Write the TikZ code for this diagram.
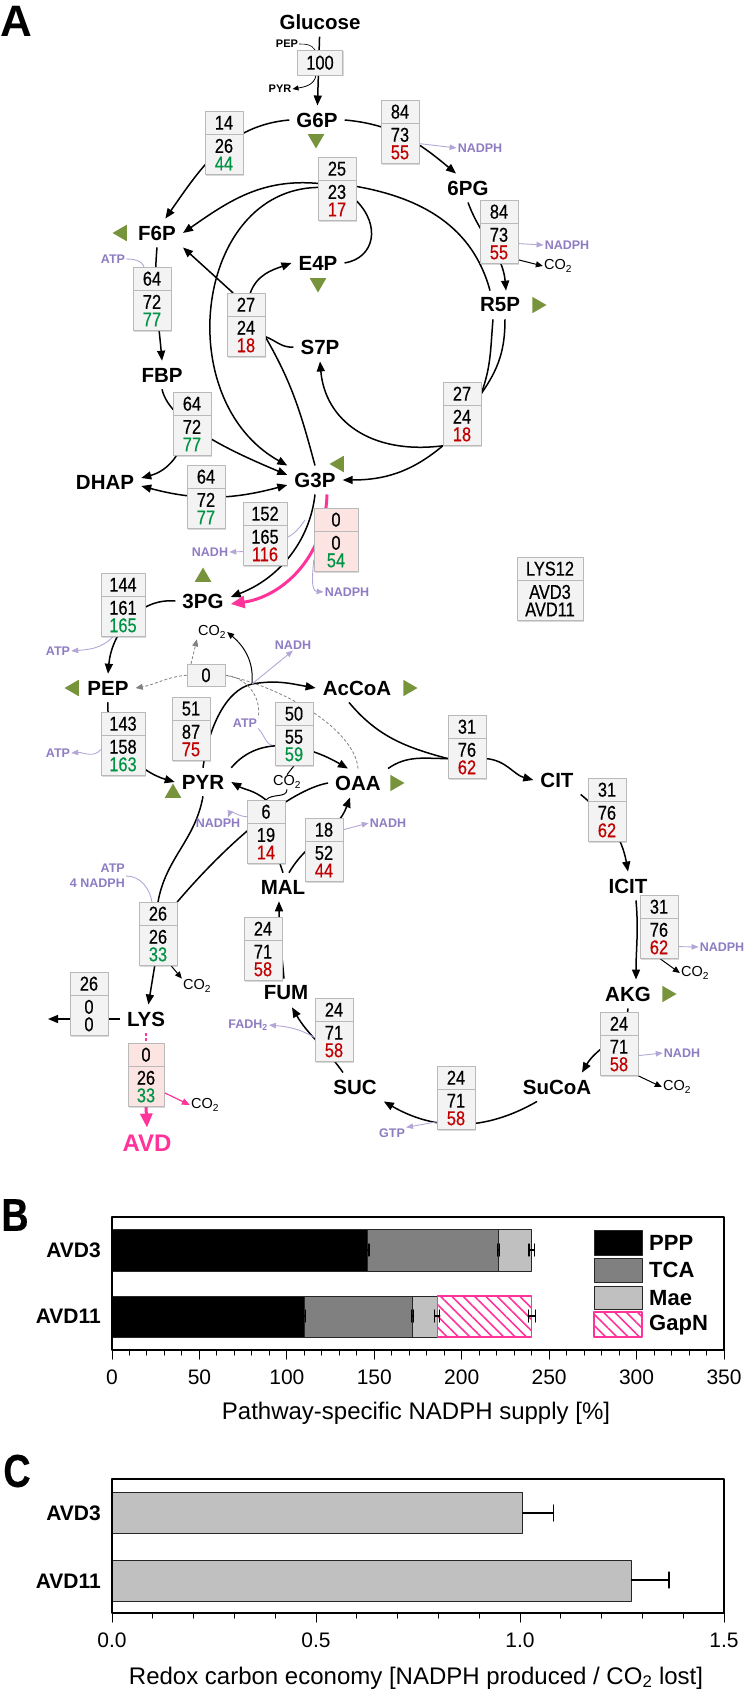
\documentclass[tikz,border=0pt]{standalone}
\usepackage{fontspec}
\setmainfont{Liberation Sans}
\newfontfamily\narrowfont[FakeStretch=0.82,FakeBold=0.4]{Liberation Sans}
\usepackage{tikz}
\usetikzlibrary{arrows.meta,positioning,shapes.geometric,backgrounds,patterns.meta,shadows}

\definecolor{fluxred}{RGB}{192,0,0}
\definecolor{fluxgreen}{RGB}{0,146,69}
\definecolor{cofpurple}{RGB}{142,124,195}
\definecolor{coflight}{RGB}{180,167,214}
\definecolor{gapnpink}{RGB}{255,51,153}
\definecolor{pinkfill}{RGB}{251,228,226}
\definecolor{boxfill}{RGB}{243,243,243}
\definecolor{boxedge}{RGB}{185,185,185}
\definecolor{sinkgreen}{RGB}{119,147,60}
\definecolor{tcagray}{RGB}{128,128,128}
\definecolor{maegray}{RGB}{192,192,192}

\begin{document}
\begin{tikzpicture}[
			x=1pt, y=1pt,
			line cap=round,
			line join=round,
			met/.style={font=\bfseries\fontsize{20.5}{23}\selectfont, inner xsep=7pt, inner ysep=7pt},
			tinylab/.style={font=\bfseries\fontsize{11}{13}\selectfont, inner sep=1pt},
			cof/.style={font=\bfseries\fontsize{12.5}{15}\selectfont, text=cofpurple, inner sep=1pt},
			cotwo/.style={font=\fontsize{14.5}{16}\selectfont, inner sep=1pt},
			cellt/.style={draw=boxedge, fill=boxfill, minimum width=38pt, minimum height=23pt,
				inner sep=0pt, anchor=north, font=\narrowfont\fontsize{20}{17.5}\selectfont,
				drop shadow={shadow xshift=1.2pt, shadow yshift=-1.2pt, opacity=0.3}},
			celll/.style={draw=boxedge, fill=boxfill, minimum width=38pt, minimum height=40pt,
				inner sep=0pt, align=center, font=\narrowfont\fontsize{20}{17.5}\selectfont,
				drop shadow={shadow xshift=1.2pt, shadow yshift=-1.2pt, opacity=0.3}},
			wide/.style={minimum width=44pt},
			sink/.style={regular polygon, regular polygon sides=3, fill=sinkgreen,
				minimum size=19pt, inner sep=0pt},
			link/.style={line width=1.5pt},
			flux/.style={line width=1.5pt, -{Triangle[length=10pt,width=8pt]}},
			fluxboth/.style={line width=1.5pt, {Triangle[length=10pt,width=8pt]}-{Triangle[length=10pt,width=8pt]}},
			thinln/.style={line width=0.6pt},
			thinarr/.style={line width=1pt, -{Triangle[length=7pt,width=6pt]}},
			cofln/.style={coflight, line width=0.9pt},
			cofarr/.style={coflight, line width=0.9pt, -{Triangle[length=7pt,width=5.5pt]}},
			gapn/.style={gapnpink, line width=3pt, -{Triangle[length=14pt,width=12pt]}},
			pinkarr/.style={gapnpink, line width=1.2pt, -{Triangle[length=8pt,width=6.5pt]}},
			pepck/.style={gray, line width=0.8pt, dash pattern=on 3pt off 2pt},
			panel/.style={font=\bfseries\fontsize{44}{48}\selectfont, inner sep=0pt},
			bar/.style={draw=black!85, line width=1pt},
			errbar/.style={line width=1.2pt},
			ticklab/.style={font=\fontsize{21}{24}\selectfont},
			rowlab/.style={font=\bfseries\fontsize{21}{24}\selectfont, anchor=east, inner sep=0pt},
			legtext/.style={font=\bfseries\fontsize{22}{24}\selectfont, anchor=west, inner sep=0pt},
			axtitle/.style={font=\fontsize{24}{28}\selectfont}
			]
			
			\useasboundingbox (0,0) rectangle (744,-1693);
			
			\newcommand{\FluxBox}[7][]{%
				\node[cellt,#1] (#2-t) at (#3) {#4};
				\node[celll,#1,below=0pt of #2-t] (#2) {#5\\\textcolor{#7}{#6}};
			}
			
			\node[panel] (labA) at (16,-21) {A};
			
			% metabolites
			\node[met] (glc) at (320,-22) {Glucose};
			\node[met] (g6p) at (317,-120) {G6P};
			\node[met] (sixpg) at (468,-188) {6PG};
			\node[met] (f6p) at (157,-233) {F6P};
			\node[met] (e4p) at (318,-263) {E4P};
			\node[met] (r5p) at (500,-305) {R5P};
			\node[met] (s7p) at (320,-347) {S7P};
			\node[met] (fbp) at (162,-375) {FBP};
			\node[met] (dhap) at (105,-482) {DHAP};
			\node[met] (g3p) at (315,-480) {G3P};
			\node[met] (threepg) at (203,-601) {3PG};
			\node[met] (pep) at (108,-688) {PEP};
			\node[met] (accoa) at (357,-688) {AcCoA};
			\node[met] (pyr) at (203,-782) {PYR};
			\node[met] (oaa) at (358,-783) {OAA};
			\node[met] (cit) at (557,-780) {CIT};
			\node[met] (icit) at (628,-886) {ICIT};
			\node[met] (akg) at (628,-994) {AKG};
			\node[met] (sucoa) at (557,-1087) {SuCoA};
			\node[met] (suc) at (355,-1087) {SUC};
			\node[met] (fum) at (286,-993) {FUM};
			\node[met] (mal) at (283,-887) {MAL};
			\node[met] (lys) at (146,-1019) {LYS};
			\node[met, text=gapnpink, font=\bfseries\fontsize{24}{26}\selectfont] (avd) at (147,-1143) {AVD};
			\coordinate (lysout) at (48,-1019);
			\coordinate (pdh) at (252,-684);
			\coordinate (nadhjoin) at (305,-520);
			
			% drain to biomass
			\node[sink, shape border rotate=180] (g6p-s) at (316,-139) {};
			\node[sink, shape border rotate=90] (f6p-s) at (122,-233) {};
			\node[sink, shape border rotate=180] (e4p-s) at (318,-283) {};
			\node[sink, shape border rotate=-90] (r5p-s) at (537,-305) {};
			\node[sink, shape border rotate=90] (g3p-s) at (339,-464) {};
			\node[sink] (threepg-s) at (203,-577) {};
			\node[sink, shape border rotate=90] (pep-s) at (74,-688) {};
			\node[sink, shape border rotate=-90] (accoa-s) at (408,-688) {};
			\node[sink] (pyr-s) at (173,-793) {};
			\node[sink, shape border rotate=-90] (oaa-s) at (395,-783) {};
			\node[sink, shape border rotate=-90] (akg-s) at (667,-994) {};
			
			% cofactors
			\node[tinylab] (peps) at (287,-44) {PEP};
			\node[tinylab] (pyrs) at (280,-89) {PYR};
			\node[cof] (nadpha) at (480,-148) {NADPH};
			\node[cof] (nadphb) at (567,-245) {NADPH};
			\node[cotwo] (co2a) at (558,-266) {CO\textsubscript{2}};
			\node[cof] (atpa) at (113,-259) {ATP};
			\node[cof] (nadha) at (210,-552) {NADH};
			\node[cof] (nadphc) at (347,-592) {NADPH};
			\node[cotwo] (co2b) at (212,-632) {CO\textsubscript{2}};
			\node[cof] (nadhb) at (293,-645) {NADH};
			\node[cof] (atpb) at (58,-651) {ATP};
			\node[cof] (atpc) at (58,-753) {ATP};
			\node[cof] (atpd) at (245,-723) {ATP};
			\node[cotwo] (co2c) at (287,-782) {CO\textsubscript{2}};
			\node[cof] (nadphd) at (218,-823) {NADPH};
			\node[cof] (nadhc) at (388,-823) {NADH};
			\node[cof, align=right, anchor=east] (atpe) at (126,-876) {ATP\\4 NADPH};
			\node[cotwo] (co2d) at (197,-986) {CO\textsubscript{2}};
			\node[cof] (fadh) at (248,-1025) {FADH\textsubscript{2}};
			\node[cof] (nadphe) at (722,-947) {NADPH};
			\node[cotwo] (co2e) at (695,-973) {CO\textsubscript{2}};
			\node[cof] (nadhd) at (682,-1053) {NADH};
			\node[cotwo] (co2f) at (677,-1087) {CO\textsubscript{2}};
			\node[cof] (gtp) at (392,-1133) {GTP};
			\node[cotwo] (co2g) at (205,-1105) {CO\textsubscript{2}};
			
			% flux boxes
			\node[cellt, minimum width=45pt, minimum height=25pt] (b100) at (320,-50) {100};
			\FluxBox{b1}{224,-111}{14}{26}{44}{fluxgreen}
			\FluxBox{b2}{400,-100}{84}{73}{55}{fluxred}
			\FluxBox{b3}{337,-157}{25}{23}{17}{fluxred}
			\FluxBox{b4}{499,-200}{84}{73}{55}{fluxred}
			\FluxBox{b5}{152,-267}{64}{72}{77}{fluxgreen}
			\FluxBox{b6}{246,-293}{27}{24}{18}{fluxred}
			\FluxBox{b7}{192,-392}{64}{72}{77}{fluxgreen}
			\FluxBox{b8}{462,-382}{27}{24}{18}{fluxred}
			\FluxBox{b9}{206,-465}{64}{72}{77}{fluxgreen}
			\FluxBox[wide]{b10}{265,-502}{152}{165}{116}{fluxred}
			\FluxBox[wide,fill=pinkfill]{b11}{336,-508}{0}{0}{54}{fluxgreen}
			\FluxBox[wide]{b12}{123,-573}{144}{161}{165}{fluxgreen}
			\node[cellt, minimum height=22pt] (b13) at (206,-664) {0};
			\FluxBox{b14}{191,-697}{51}{87}{75}{fluxred}
			\FluxBox[wide]{b15}{123,-712}{143}{158}{163}{fluxgreen}
			\FluxBox{b16}{294,-702}{50}{55}{59}{fluxgreen}
			\FluxBox{b17}{266,-800}{6}{19}{14}{fluxred}
			\FluxBox{b18}{324,-818}{18}{52}{44}{fluxred}
			\FluxBox{b19}{467,-715}{31}{76}{62}{fluxred}
			\FluxBox{b20}{607,-778}{31}{76}{62}{fluxred}
			\FluxBox{b21}{659,-895}{31}{76}{62}{fluxred}
			\FluxBox{b22}{619,-1012}{24}{71}{58}{fluxred}
			\FluxBox{b23}{456,-1066}{24}{71}{58}{fluxred}
			\FluxBox{b24}{334,-998}{24}{71}{58}{fluxred}
			\FluxBox{b25}{263,-917}{24}{71}{58}{fluxred}
			\FluxBox{b26}{158,-902}{26}{26}{33}{fluxgreen}
			\FluxBox{b27}{89,-972}{26}{0}{0}{black}
			\FluxBox[minimum width=36pt,fill=pinkfill]{b28}{146,-1043}{0}{26}{33}{fluxgreen}
			\FluxBox[minimum width=66pt]{leg}{550,-557}{LYS12}{AVD3}{AVD11}{black}
			
			\begin{scope}[on background layer]
				% glycolysis and PPP
				\draw[flux] (glc) -- (g6p);
				\draw[thinln] (peps.east) to[out=0,in=120] ([xshift=-5pt]b100.north);
				\draw[line width=0.8pt, -{Triangle[length=6pt,width=5pt]}] ([xshift=-4pt]b100.south) to[out=-100,in=10] (pyrs.east);
				\draw[flux] (g6p.west) to[out=185,in=55] (f6p.60);
				\draw[flux] (g6p.east) to[out=-5,in=140] ([xshift=-12pt]sixpg.north);
				\draw[flux] (sixpg.south) to[out=-70,in=95] ([xshift=6pt]r5p.north);
				\draw[cofarr] (b2.east) -- (nadpha.west);
				\draw[cofarr] (b4.east) -- (nadphb.west);
				\draw[thinarr] ([yshift=4pt]b4.south east) -- (co2a.west);
				
				\draw[link] ([xshift=-10pt]r5p.north) to[out=105,in=-10] ([yshift=-6pt]b3.north east);
				\draw[link] (e4p.east) .. controls +(30,5) and +(25,-25) .. (b3.east);
				\draw[flux] ([yshift=-3pt]b3.north west) to[out=175,in=35] (f6p.east);
				\draw[flux] ([yshift=-7pt]b3.north west) .. controls (195,-190) and (170,-400) .. (g3p.north west);
				
				\draw[flux] (b6-t) -- (f6p.south east);
				\draw[flux] (b6-t) to[out=70,in=200] (e4p.west);
				\draw[link] (s7p.west) to[out=185,in=-20] (b6.east);
				\draw[link] (g3p.north) to[out=105,in=-60] (b6.east);
				
				\draw[flux] (f6p.south) to[out=-95,in=95] (fbp.north);
				\draw[cofln] (atpa.east) to[out=0,in=110] ([xshift=-8pt]b5-t.north);
				\draw[flux] (fbp.south) .. controls (170,-425) and (240,-455) .. ([yshift=5pt]g3p.west);
				\draw[flux] ([xshift=-8pt]b7.center) to[out=-100,in=15] ([yshift=4pt]dhap.east);
				\draw[fluxboth] ([yshift=-4pt]dhap.east) to[out=-15,in=195] ([yshift=-5pt]g3p.west);
				
				\draw[link] ([xshift=-7pt]r5p.south) to[out=-95,in=70] (b8-t.east);
				\draw[link] ([xshift=5pt]r5p.south) to[out=-90,in=55] (b8-t.east);
				\draw[flux] (b8.south west) .. controls (370,-455) and (325,-420) .. (s7p.south);
				\draw[flux] (b8.south west) to[out=-140,in=0] (g3p.east);
				
				% lower glycolysis
				\draw[flux] (g3p.south) .. controls (310,-540) and (280,-578) .. ([yshift=4pt]threepg.east);
				\draw[cofarr] ([yshift=-6pt]b10.west) -- (nadha.east);
				\draw[cofln] ([yshift=8pt]b10.east) to[out=30,in=-125] (nadhjoin);
				\draw[gapn] ([xshift=12pt]g3p.south) .. controls (325,-560) and (280,-597) .. ([yshift=-3pt]threepg.east);
				\draw[cofarr] ([yshift=-8pt]b11.west) to[out=-95,in=175] (nadphc.west);
				\draw[flux] (threepg.west) to[out=175,in=85] (pep.north);
				\draw[cofarr] ([xshift=-10pt]b12.south) to[out=-135,in=5] (atpb.east);
				\draw[flux] (pep.south) .. controls (105,-740) and (140,-772) .. (pyr.west);
				\draw[cofarr] ([yshift=6pt]b15.west) to[out=-130,in=5] (atpc.east);
				
				% pyruvate node
				\draw[link] (pyr.north) .. controls (208,-730) and (225,-690) .. (pdh);
				\draw[flux] (pdh) to[out=10,in=170] (accoa.west);
				\draw[thinarr] (pdh) to[out=85,in=-40] (co2b.east);
				\draw[cofarr] (pdh) -- (nadhb.south);
				\draw[pepck] (oaa.north) .. controls (355,-730) and (285,-688) .. (b13.east);
				\draw[pepck, -{Triangle[length=7pt,width=6pt]}] (b13.west) to[out=185,in=10] (pep.east);
				\draw[pepck, -{Triangle[length=7pt,width=6pt]}] ([xshift=-15pt]b13.north) -- (co2b.south west);
				\draw[pepck] (b13.east) to[out=-5,in=80] (atpd.north east);
				\draw[cofln] (atpd.south east) to[out=-45,in=180] (b16.west);
				\draw[flux] (pyr.north east) to[out=50,in=150] ([xshift=-10pt]oaa.north);
				\draw[link, line width=1pt] (b16.south) -- (co2c.north);
				\draw[link] ([xshift=14pt]b17.south) -- (mal.north);
				\draw[flux] (b17-t.north) to[out=140,in=-30] (pyr.east);
				\draw[link, line width=1pt] (b17-t.north) to[out=50,in=-90] (co2c.south);
				\draw[cofarr] ([yshift=-5pt]b17-t.west) to[out=180,in=70] ([xshift=10pt]nadphd.north);
				
				% lysine branch
				\draw[link] (oaa.west) .. controls (290,-790) and (230,-840) .. (b26-t.north east);
				\draw[link] (pyr.south) to[out=-100,in=80] (b26-t.north);
				\draw[cofln] (atpe.east) to[out=0,in=100] ([xshift=-6pt]b26-t.north);
				\draw[flux] (b26) -- (lys);
				\draw[thinarr] ([xshift=-6pt]b26.south east) -- (co2d.north west);
				\draw[flux] (lys.west) -- (lysout);
				\draw[gapnpink, line width=1.5pt, dash pattern=on 3pt off 2pt] (lys.south) -- (b28-t.north);
				\draw[gapn] (b28.south) -- (avd.north);
				\draw[pinkarr] ([yshift=-6pt]b28.east) -- (co2g.west);
				
				% TCA cycle
				\draw[flux] ([xshift=6pt]mal.north) to[out=60,in=-110] ([xshift=-8pt]oaa.south);
				\draw[cofarr] (b18-t.east) -- (nadhc.west);
				\draw[link] ([xshift=-8pt]accoa.south) to[out=-50,in=165] (b19.west);
				\draw[link] (oaa.north east) to[out=35,in=180] (b19.west);
				\draw[flux] (b19.east) to[out=-5,in=165] (cit.west);
				\draw[flux] (cit.south east) to[out=-40,in=100] (icit.north);
				\draw[flux] ([xshift=8pt]icit.south) to[out=-85,in=90] ([xshift=8pt]akg.north);
				\draw[cofarr] ([yshift=-8pt]b21.east) -- (nadphe.west);
				\draw[thinarr] ([xshift=-18pt]b21.south east) -- (co2e.west);
				\draw[flux] (akg.south) to[out=-95,in=60] ([xshift=25pt]sucoa.north);
				\draw[cofarr] (b22.east) -- (nadhd.west);
				\draw[thinarr] (b22.south east) -- (co2f.west);
				\draw[flux] ([xshift=-20pt]sucoa.south) to[out=-150,in=-30] (suc.south east);
				\draw[cofarr] ([yshift=8pt]b23.south west) -- (gtp.north east);
				\draw[flux] ([xshift=-12pt]suc.north) to[out=125,in=-60] ([xshift=6pt]fum.south);
				\draw[cofarr] ([yshift=4pt]b24.west) to[out=150,in=-5] (fadh.east);
				\draw[flux] ([xshift=-2pt]fum.north) to[out=95,in=-90] ([xshift=-4pt]mal.south);
			\end{scope}
			
			% Panel B
			\node[panel, font=\bfseries\narrowfont\fontsize{46}{48}\selectfont] (labB) at (15,-1215) {B};
			\begin{scope}[xshift=112pt, x=1.7486pt]
				\draw[bar, fill=black] (0,-1229) rectangle (146,-1271);
				\draw[bar, fill=tcagray] (146,-1229) rectangle (221,-1271);
				\draw[bar, fill=maegray] (221,-1229) rectangle (240,-1271);
				\draw[bar, fill=black] (0,-1296) rectangle (110,-1337);
				\draw[bar, fill=tcagray] (110,-1296) rectangle (172,-1337);
				\draw[bar, fill=maegray] (172,-1296) rectangle (186,-1337);
				\draw[bar, draw=gapnpink, line width=1.3pt, pattern={Lines[angle=-45,distance=8pt,line width=1.6pt]}, pattern color=gapnpink] (186,-1296) rectangle (240,-1337);
				\foreach \v/\e/\y in {146/1/-1250, 221/0.5/-1250, 240/1.5/-1250, 110/0.5/-1316, 172/0.5/-1316, 186/1.5/-1316, 240/2/-1316} {
					\draw[errbar] (\v-\e,\y) -- (\v+\e,\y);
					\draw[errbar] (\v-\e,\y-6) -- (\v-\e,\y+6);
					\draw[errbar] (\v+\e,\y-6) -- (\v+\e,\y+6);
				}
				\foreach \t in {0,10,...,350}
					\draw[line width=1pt] (\t,-1350) -- (\t,-1355);
				\foreach \t in {0,50,...,350} {
					\draw[line width=1pt] (\t,-1350) -- (\t,-1359);
					\node[ticklab] at (\t,-1377) {\t};
				}
			\end{scope}
			\draw[line width=1.5pt] (112,-1217) rectangle (724,-1350);
			\node[rowlab] (b-avd3) at (101,-1250) {AVD3};
			\node[rowlab] (b-avd11) at (101,-1316) {AVD11};
			\draw[bar, fill=black] (594,-1230) rectangle (642,-1255);
			\draw[bar, fill=tcagray] (594,-1258) rectangle (642,-1282);
			\draw[bar, fill=maegray] (594,-1286) rectangle (642,-1309);
			\draw[bar, draw=gapnpink, line width=1.3pt, pattern={Lines[angle=-45,distance=8pt,line width=1.6pt]}, pattern color=gapnpink] (594,-1312) rectangle (642,-1337);
			\node[legtext] (leg-ppp) at (649,-1243) {PPP};
			\node[legtext] (leg-tca) at (649,-1270) {TCA};
			\node[legtext] (leg-mae) at (649,-1298) {Mae};
			\node[legtext] (leg-gapn) at (649,-1325) {GapN};
			\node[axtitle] (title-b) at (416,-1413) {Pathway-specific NADPH supply [\%]};
			
			% Panel C
			\node[panel, font=\bfseries\narrowfont\fontsize{46}{48}\selectfont] (labC) at (17,-1471) {C};
			\begin{scope}[xshift=112pt, x=408pt]
				\draw[bar, fill=maegray] (0,-1492) rectangle (1.007,-1533);
				\draw[bar, fill=maegray] (0,-1560) rectangle (1.273,-1601);
				\draw[errbar] (1.007,-1513) -- (1.082,-1513);
				\draw[errbar] (1.082,-1505) -- (1.082,-1521);
				\draw[errbar] (1.273,-1580) -- (1.365,-1580);
				\draw[errbar] (1.365,-1572) -- (1.365,-1588);
				\foreach \i in {0,...,15}
					\draw[line width=1pt] (\i/10,-1613) -- (\i/10,-1618);
				\foreach \t/\l in {0/0.0, 0.5/0.5, 1/1.0, 1.5/1.5} {
					\draw[line width=1pt] (\t,-1613) -- (\t,-1622);
					\node[ticklab] at (\t,-1640) {\l};
				}
			\end{scope}
			\draw[line width=1.5pt] (112,-1479) rectangle (724,-1613);
			\node[rowlab] (c-avd3) at (101,-1513) {AVD3};
			\node[rowlab] (c-avd11) at (101,-1581) {AVD11};
			\node[axtitle] (title-c) at (416,-1678) {Redox carbon economy [NADPH produced / CO\textsubscript{2} lost]};
			
		\end{tikzpicture}
\end{document}
